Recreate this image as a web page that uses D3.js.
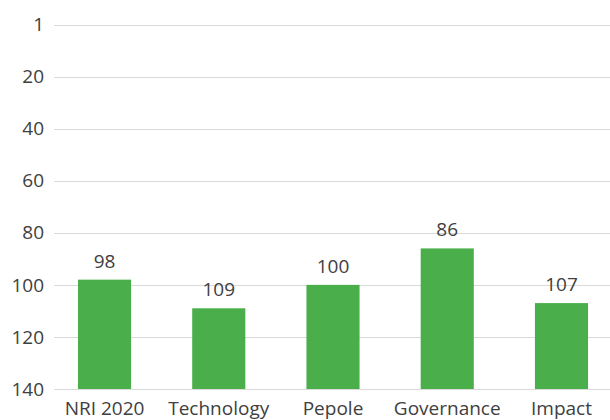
<!DOCTYPE html>
<html>
<head>
<meta charset="utf-8">
<script src="https://cdn.jsdelivr.net/npm/d3@7"></script>
<style>
  html, body { margin: 0; padding: 0; background: #fff; }
  svg { display: block; }
  text { font-family: "Open Sans", "Noto Sans", sans-serif; fill: #404040; }
</style>
</head>
<body>
<svg id="chart" width="610" height="420"></svg>
<script>
// Ranking data (lower rank is better, so the axis runs downward)
const categories = ["NRI 2020", "Technology", "Pepole", "Governance", "Impact"];
const ranks = [98, 109, 100, 86, 107];
const tickValues = [0, 20, 40, 60, 80, 100, 120, 140];
const tickLabels = ["1", "20", "40", "60", "80", "100", "120", "140"];

const svg = d3.select("#chart");
const plotTop = 24.5, plotBottom = 389;
const gridLeft = 54, gridRight = 610;
const fontSize = 19;

const x = d3.scaleBand()
  .domain(categories)
  .range([47.4, 618.6])
  .paddingInner(0.535)
  .paddingOuter(0.2675);

const y = d3.scaleLinear().domain([0, 140]).range([plotTop, plotBottom]);

// Horizontal gridlines
svg.append("g")
  .selectAll("line")
  .data(tickValues)
  .join("line")
  .attr("x1", gridLeft)
  .attr("x2", gridRight)
  .attr("y1", d => Math.round(y(d)) + 0.5)
  .attr("y2", d => Math.round(y(d)) + 0.5)
  .attr("stroke", "#d9d9d9")
  .attr("stroke-width", 1);

// Y axis labels
svg.append("g")
  .selectAll("text")
  .data(tickValues)
  .join("text")
  .attr("x", 44)
  .attr("y", d => y(d))
  .attr("dy", "0.35em")
  .attr("text-anchor", "end")
  .attr("font-size", fontSize)
  .text((d, i) => tickLabels[i]);

// Bars grow upward from the bottom of the axis to each rank
svg.append("g")
  .selectAll("rect")
  .data(ranks)
  .join("rect")
  .attr("x", (d, i) => x(categories[i]))
  .attr("width", x.bandwidth())
  .attr("y", d => y(d))
  .attr("height", d => y(140) - y(d))
  .attr("fill", "#4aaf4a");

// Value labels above the bars
svg.append("g")
  .selectAll("text")
  .data(ranks)
  .join("text")
  .attr("x", (d, i) => x(categories[i]) + x.bandwidth() / 2)
  .attr("y", d => y(d) - 12)
  .attr("text-anchor", "middle")
  .attr("font-size", fontSize)
  .text(d => d);

// Category labels
svg.append("g")
  .selectAll("text")
  .data(categories)
  .join("text")
  .attr("x", d => x(d) + x.bandwidth() / 2)
  .attr("y", 415)
  .attr("text-anchor", "middle")
  .attr("font-size", fontSize)
  .text(d => d);
</script>
</body>
</html>
